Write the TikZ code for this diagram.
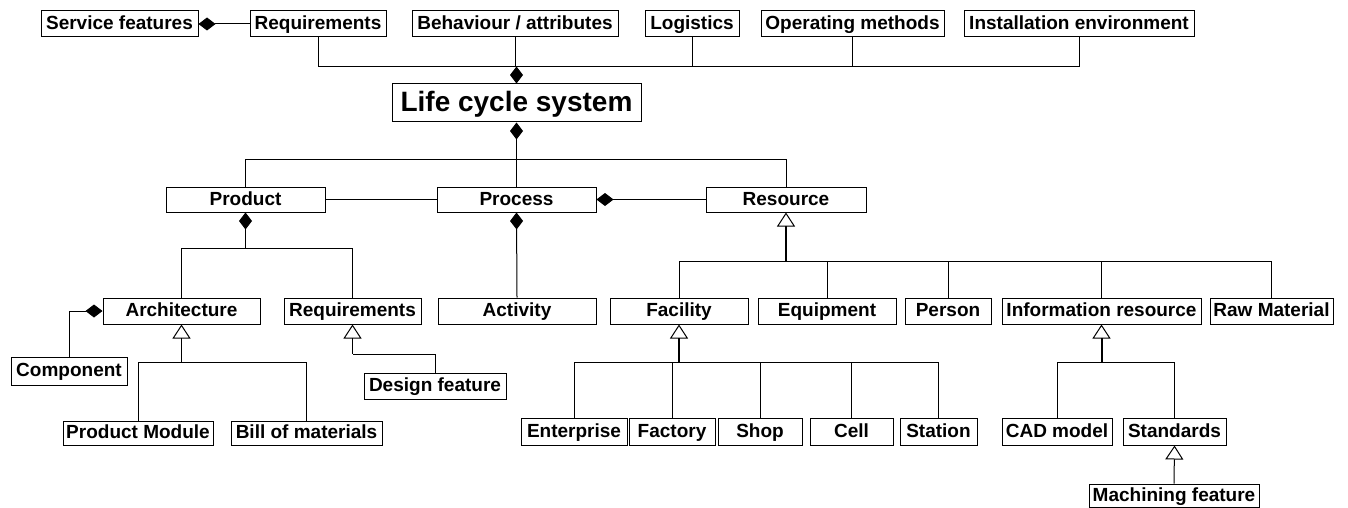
\documentclass[tikz,border=0pt]{standalone}
\usepackage{fontspec}
\setmainfont{Liberation Sans}
\usetikzlibrary{arrows.meta}
\tikzset{
  box/.style={draw, line width=1pt, inner sep=0pt, fill=white, text height=14pt, text depth=3pt, font=\fontsize{19}{21}\selectfont\bfseries},
  titlebox/.style={box, text height=20pt, text depth=3pt, font=\fontsize{28}{30}\selectfont\bfseries},
  link/.style={line width=1pt},
  compo/.style={link, -{Diamond[length=17pt,width=13pt]}},
  compostart/.style={link, {Diamond[length=17pt,width=13pt]}-},
  gen/.style={link, -{Triangle[open,length=14pt,width=18pt]}},
  genstem/.style={line width=2pt, -{Triangle[open,length=14pt,width=18pt,line width=1pt]}},
}
\newcommand{\bx}[7][box]{%
  \pgfmathsetmacro\bxw{#5-#3}%
  \pgfmathsetmacro\bxh{#6-#4}%
  \pgfmathsetmacro\bxx{(#3+#5)/2}%
  \pgfmathsetmacro\bxy{(#4+#6)/2}%
  \node[#1, minimum width=\bxw pt, minimum height=\bxh pt] (#2) at (\bxx,\bxy) {#7};}
\begin{document}
\begin{tikzpicture}[x=1pt,y=-1pt]
\useasboundingbox (0,0) rectangle (1348,508);
% top row
\bx{sf}{41}{11}{198}{37}{Service features}
\bx{reqa}{250}{11}{386}{37}{Requirements}
\bx{beh}{412}{11}{618}{37}{Behaviour / attributes}
\bx{log}{645}{11}{739}{37}{Logistics}
\bx{opm}{761}{11}{944}{37}{Operating methods}
\bx{inst}{964}{11}{1194}{37}{Installation environment}
% title
\bx[titlebox]{life}{392}{84}{641}{122}{Life cycle system}
% row 2
\bx{prod}{166}{187}{325}{212}{Product}
\bx{proc}{437}{187}{596}{212}{Process}
\bx{res}{706}{187}{866}{212}{Resource}
% row 3
\bx{arch}{103}{298}{260}{324}{Architecture}
\bx{reqb}{284}{298}{421}{324}{Requirements}
\bx{act}{438}{298}{596}{324}{Activity}
\bx{fac}{610}{298}{748}{324}{Facility}
\bx{equ}{758}{298}{896}{324}{Equipment}
\bx{per}{905}{298}{991}{324}{Person}
\bx{info}{1002}{298}{1201}{324}{Information resource}
\bx{raw}{1210}{298}{1333}{324}{Raw Material}
% lower
\bx{comp}{11}{357}{127}{385}{Component}
\bx{df}{364}{373}{506}{399}{Design feature}
\bx{pm}{63}{421}{213}{445}{Product Module}
\bx{bom}{231}{421}{382}{445}{Bill of materials}
\bx{ent}{521}{418}{627}{445}{Enterprise}
\bx{fct}{629}{418}{715}{445}{Factory}
\bx{shop}{718}{418}{802}{445}{Shop}
\bx{cell}{810}{418}{893}{445}{Cell}
\bx{sta}{900}{418}{977}{445}{Station}
\bx{cad}{1002}{418}{1112}{445}{CAD model}
\bx{std}{1123}{418}{1226}{445}{Standards}
\bx{mf}{1089}{484}{1259}{507}{Machining feature}
% junctions
\coordinate (jtop) at (life.north |- 0,67);
\coordinate (jmid) at (life.south |- 0,159);
\coordinate (jprod) at (prod.south |- 0,248);
\coordinate (jres) at (res.south |- 0,261);
\coordinate (jarch) at (arch.south |- 0,362);
\coordinate (jreq) at (reqb.south |- 0,354);
\coordinate (jfac) at (fac.south |- 0,362);
\coordinate (jinfo) at (info.south |- 0,362);
% top connectors
\draw[compostart] (sf.east) -- (reqa.west);
\draw[link] (reqa.south) |- (jtop);
\draw[link] (beh.south) |- (jtop);
\draw[link] (log.south) |- (jtop);
\draw[link] (opm.south) |- (jtop);
\draw[link] (inst.south) |- (jtop);
\draw[compo] (jtop) -- (life.north);
% life cycle to row 2
\draw[compostart] (life.south) -- (jmid);
\draw[link] (jmid) -| (prod.north);
\draw[link] (jmid) -- (proc.north);
\draw[link] (jmid) -| (res.north);
\draw[link] (prod.east) -- (proc.west);
\draw[compo] (res.west) -- (proc.east);
% product
\draw[compo] (jprod) -- (prod.south);
\draw[link] (arch.north) |- (jprod);
\draw[link] (reqb.north) |- (jprod);
% process
\draw[compo] (act.north) -- (proc.south);
% resource
\draw[genstem] (jres) -- (res.south);
\draw[link] (fac.north) |- (jres);
\draw[link] (equ.north) |- (jres);
\draw[link] (per.north) |- (jres);
\draw[link] (info.north) |- (jres);
\draw[link] (raw.north) |- (jres);
% architecture
\draw[compo] (comp.north) |- (arch.west);
\draw[gen] (jarch) -- (arch.south);
\draw[link] (pm.north) |- (jarch);
\draw[link] (bom.north) |- (jarch);
% requirements
\draw[gen] (jreq) -- (reqb.south);
\draw[link] (df.north) |- (jreq);
% facility
\draw[genstem] (jfac) -- (fac.south);
\draw[link] (ent.north) |- (jfac);
\draw[link] (fct.north) |- (jfac);
\draw[link] (shop.north) |- (jfac);
\draw[link] (cell.north) |- (jfac);
\draw[link] (sta.north) |- (jfac);
% information resource
\draw[genstem] (jinfo) -- (info.south);
\draw[link] (cad.north) |- (jinfo);
\draw[link] (std.north) |- (jinfo);
\draw[gen] (mf.north) -- (std.south);
\end{tikzpicture}
\end{document}
